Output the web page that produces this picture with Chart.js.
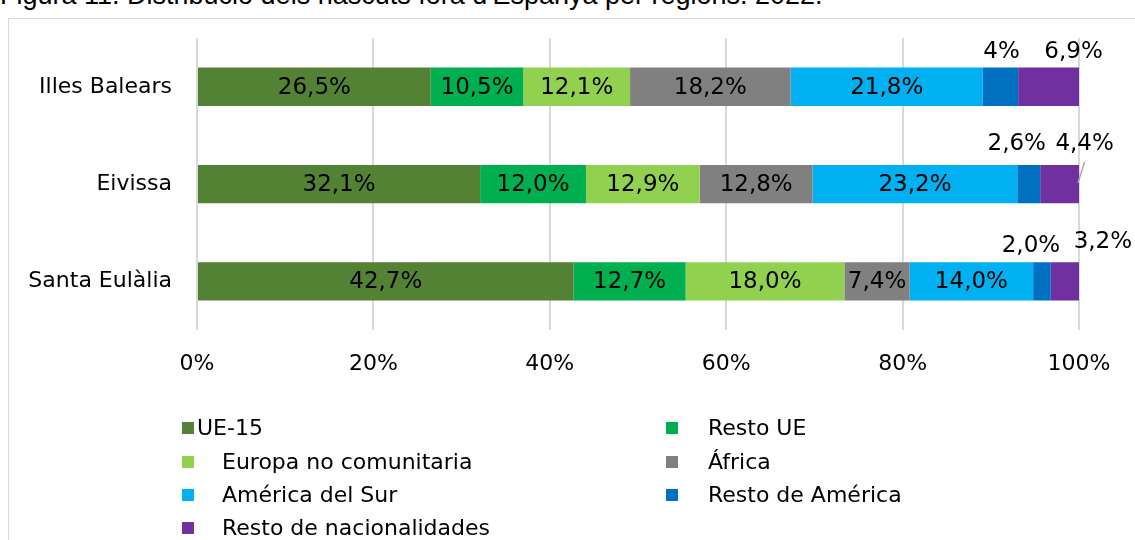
<!DOCTYPE html>
<html>
<head>
<meta charset="utf-8">
<script src="https://cdn.jsdelivr.net/npm/chart.js@4.4.1/dist/chart.umd.min.js"></script>
<style>
  html, body { margin: 0; padding: 0; background: #fff; }
  body { width: 1135px; height: 540px; overflow: hidden; position: relative; font-family: "DejaVu Sans", sans-serif; }
  .title { position: absolute; left: 0; top: -18px; font: 27px "Liberation Sans", Arial, sans-serif; line-height: 27px; white-space: nowrap; color: #000; }
  .frame { position: absolute; left: 8px; top: 18px; width: 1200px; height: 600px; border: 1.5px solid #d9d9d9; }
  .wrap { position: absolute; left: 0; top: 0; width: 1135px; height: 540px; }
  .legend-item { position: absolute; font-size: 22px; color: #000; white-space: nowrap; line-height: 26px; }
  .legend-item .box { position: absolute; width: 12px; height: 12px; top: 7px; }
</style>
</head>
<body>
<div class="title">Figura 11. Distribució dels nascuts fora d'Espanya per regions. 2022.</div>
<div class="frame"></div>
<div class="wrap"><canvas id="chart"></canvas></div>
<div id="legend"></div>
<script>
// categories
const regions = ['Illes Balears', 'Eivissa', 'Santa Eulàlia'];

// series values (% of foreign-born population), as printed on the bars
const ue15 = ['26.5', '32.1', '42.7'];
const restoUE = ['10.5', '12.0', '12.7'];
const europaNoComunitaria = ['12.1', '12.9', '18.0'];
const africa = ['18.2', '12.8', '7.4'];
const americaSur = ['21.8', '23.2', '14.0'];
const restoAmerica = ['4', '2.6', '2.0'];
const restoNacionalidades = ['6.9', '4.4', '3.2'];

// x axis ticks
const xTicks = [0, 20, 40, 60, 80, 100];

const seriesNames = ['UE-15', 'Resto UE', 'Europa no comunitaria', 'África',
  'América del Sur', 'Resto de América', 'Resto de nacionalidades'];
const seriesData = [ue15, restoUE, europaNoComunitaria, africa, americaSur, restoAmerica, restoNacionalidades];
const seriesColors = ['#548235', '#00b050', '#92d050', '#808080', '#00b0f0', '#0070c0', '#7030a0'];

// small segments get their label above the bar (offsets relative to segment centre / bar top)
const outsideLabels = {
  5: [[1, -16], [-12, -21], [-11, -16]],
  6: [[25, -16], [25, -21], [38, -20]]
};

const fmt = raw => raw.replace('.', ',') + '%';

const barLabels = {
  id: 'barLabels',
  afterDatasetsDraw(chart) {
    const ctx = chart.ctx;
    ctx.save();
    ctx.font = '23px "DejaVu Sans"';
    ctx.fillStyle = '#000';
    ctx.textAlign = 'center';
    ctx.textBaseline = 'middle';
    chart.data.datasets.forEach((ds, di) => {
      const meta = chart.getDatasetMeta(di);
      meta.data.forEach((bar, i) => {
        const cx = (bar.x + bar.base) / 2;
        const text = fmt(ds.data[i]);
        if (outsideLabels[di]) {
          const [dx, dy] = outsideLabels[di][i];
          const top = bar.y - bar.height / 2;
          ctx.fillText(text, cx + dx, top + dy);
          // leader line for Eivissa's last segment
          if (di === 6 && i === 1) {
            ctx.strokeStyle = '#a6a6a6';
            ctx.lineWidth = 1.5;
            ctx.beginPath();
            ctx.moveTo(cx + dx, top - 3);
            ctx.lineTo(bar.x - 1, top + 18);
            ctx.stroke();
          }
        } else {
          ctx.fillText(text, cx, bar.y + 1);
        }
      });
    });
    ctx.restore();
  }
};

new Chart(document.getElementById('chart'), {
  type: 'bar',
  data: {
    labels: regions,
    datasets: seriesNames.map((name, i) => ({
      label: name,
      data: seriesData[i],
      backgroundColor: seriesColors[i],
      borderWidth: 0,
      barPercentage: 0.395,
      categoryPercentage: 1
    }))
  },
  options: {
    indexAxis: 'y',
    responsive: true,
    maintainAspectRatio: false,
    animation: false,
    layout: { padding: { top: 38, right: 56, bottom: 150, left: 0 } },
    plugins: { legend: { display: false }, tooltip: { enabled: false } },
    scales: {
      x: {
        stacked: true,
        min: 0,
        max: 100,
        afterBuildTicks: scale => { scale.ticks = xTicks.map(v => ({ value: v })); },
        afterFit: scale => { scale.height = 60; },
        grid: { color: '#d9d9d9', lineWidth: 2, drawTicks: false },
        border: { display: false },
        ticks: {
          padding: 21,
          color: '#000',
          font: { family: 'DejaVu Sans', size: 22 },
          callback: v => v + '%'
        }
      },
      y: {
        stacked: true,
        afterFit: scale => { scale.width = 197; },
        grid: { display: false, drawTicks: false },
        border: { display: false },
        ticks: {
          padding: 25,
          color: '#000',
          font: { family: 'DejaVu Sans', size: 22 }
        }
      }
    }
  },
  plugins: [barLabels]
});

// two-column legend below the plot
const legend = document.getElementById('legend');
const rowY = [415, 449, 482, 515];
seriesNames.forEach((name, i) => {
  const col = i % 2, row = Math.floor(i / 2);
  const item = document.createElement('div');
  item.className = 'legend-item';
  item.style.top = rowY[row] + 'px';
  item.style.left = (col === 0 ? 182 : 666) + 'px';
  const textOffset = i === 0 ? 15 : (col === 0 ? 40 : 42);
  item.style.paddingLeft = textOffset + 'px';
  const box = document.createElement('span');
  box.className = 'box';
  box.style.left = '0px';
  box.style.background = seriesColors[i];
  item.appendChild(box);
  item.appendChild(document.createTextNode(name));
  legend.appendChild(item);
});
</script>
</body>
</html>
